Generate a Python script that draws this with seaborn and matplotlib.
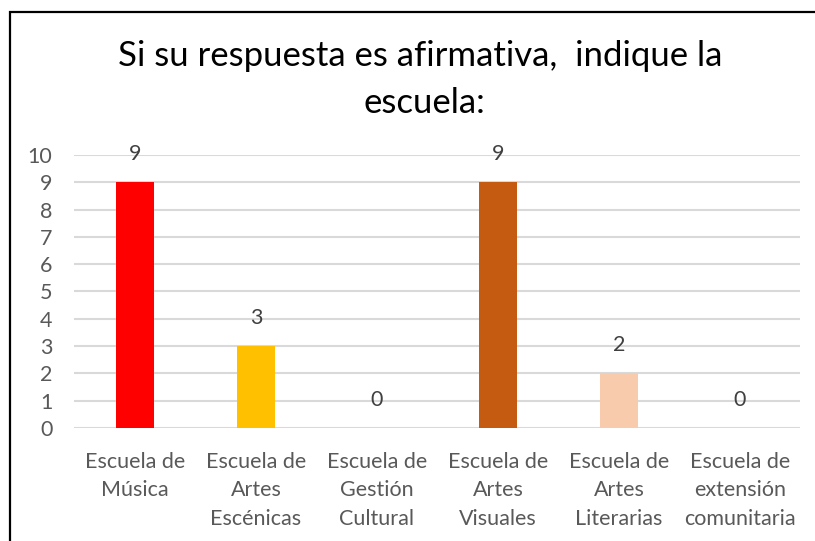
import matplotlib.pyplot as plt
import seaborn as sns
import pandas as pd
from matplotlib.patches import Rectangle

escuelas = [
    "Escuela de\nMúsica",
    "Escuela de\nArtes\nEscénicas",
    "Escuela de\nGestión\nCultural",
    "Escuela de\nArtes\nVisuales",
    "Escuela de\nArtes\nLiterarias",
    "Escuela de\nextensión\ncomunitaria",
]
respuestas = [9, 3, 0, 9, 2, 0]
colores = ["#FF0000", "#FFC000", "#A5A5A5", "#C55A11", "#F8CBAD", "#4472C4"]

df = pd.DataFrame({"escuela": escuelas, "n": respuestas})

sns.set_theme(style="white")
plt.rcParams["font.family"] = ["Lato", "DejaVu Sans"]

fig = plt.figure(figsize=(8.15, 5.41), dpi=100)
ax = fig.add_axes([0.0914, 0.2089, 0.8908, 0.5046])

sns.barplot(data=df, x="escuela", y="n", hue="escuela", palette=colores,
            width=0.31, legend=False, ax=ax, saturation=1, linewidth=0)

ax.set_ylim(0, 10)
ax.set_yticks(range(0, 11))
ax.set_xlim(-0.5, len(escuelas) - 0.5)
ax.yaxis.grid(True, color="#D9D9D9", linewidth=1.5)
ax.set_axisbelow(True)
for s in ax.spines.values():
    s.set_visible(False)
ax.tick_params(axis="both", length=0, labelsize=15.5, colors="#595959")
ax.tick_params(axis="y", pad=16)
ax.tick_params(axis="x", pad=17)
ax.set_xlabel("")
ax.set_ylabel("")
for lbl in ax.get_xticklabels():
    lbl.set_linespacing(1.55)

for c in ax.containers:
    ax.bar_label(c, padding=13, fontsize=15.5, color="#404040")

fig.text(420 / 815, 1 - 56 / 541, "Si su respuesta es afirmativa,  indique la",
         ha="center", va="center", fontsize=25, color="#000000")
fig.text(424 / 815, 1 - 103 / 541, "escuela:",
         ha="center", va="center", fontsize=25, color="#000000")

fig.patches.append(Rectangle((10 / 815, -0.1), 1.2, 1 - 12 / 541 + 0.1,
                             transform=fig.transFigure, fill=False,
                             edgecolor="black", linewidth=1.6))

fig.savefig("out.png", dpi=100)
